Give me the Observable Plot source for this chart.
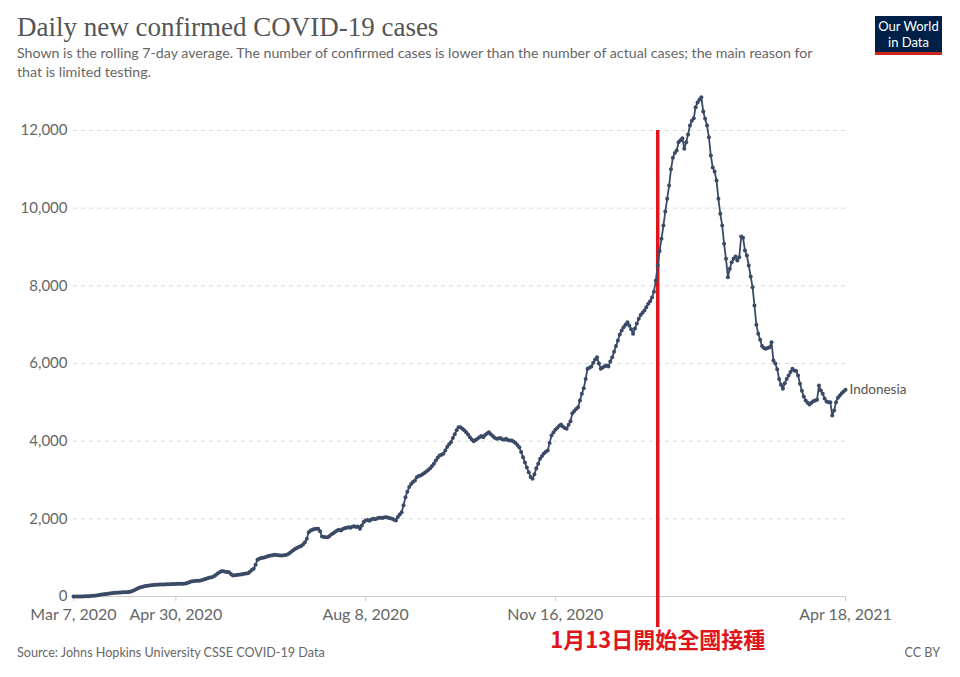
<!DOCTYPE html>
<html>
<head>
<meta charset="utf-8">
<script src="https://cdn.jsdelivr.net/npm/d3@7"></script>
<script src="https://cdn.jsdelivr.net/npm/@observablehq/plot@0.6"></script>
<style>
  html, body { margin: 0; padding: 0; background: #fff; }
  #wrap { position: relative; width: 960px; height: 677px; overflow: hidden; font-family: Lato, "Noto Sans", sans-serif; }
  #title { position: absolute; left: 17px; top: 10px; font-family: "Liberation Serif", "DejaVu Serif", serif; font-size: 27px; line-height: 34px; color: #555; white-space: nowrap; }
  #subtitle { position: absolute; left: 17px; top: 43px; font-size: 14.2px; line-height: 19px; color: #666; white-space: nowrap; }
  #logo { position: absolute; left: 875px; top: 16px; width: 67px; height: 36px; background: #002147; border-bottom: 3px solid #ce261e; color: #fff; text-align: center; font-family: "Liberation Sans Narrow", Lato, sans-serif; font-size: 13px; line-height: 16px; padding-top: 2px; box-sizing: border-box; height: 39px; }
  #source { position: absolute; left: 17px; top: 644px; font-size: 12.6px; line-height: 18px; color: #666; }
  #license { position: absolute; right: 20px; top: 644px; font-size: 12.6px; line-height: 18px; color: #666; }
  #chart { position: absolute; left: 0; top: 0; }
  #chart g[aria-label^="x-axis"] text { font-size: 16px; }
</style>
</head>
<body>
<div id="wrap">
  <div id="chart"></div>
  <div id="title"></div>
  <div id="subtitle"></div>
  <div id="logo"></div>
  <div id="source"></div>
  <div id="license"></div>
</div>
<script>
// ---- text ----
const titleText = "Daily new confirmed COVID-19 cases";
const subtitleLines = [
  "Shown is the rolling 7-day average. The number of confirmed cases is lower than the number of actual cases; the main reason for",
  "that is limited testing."
];
const logoLines = ["Our World", "in Data"];
const sourceText = "Source: Johns Hopkins University CSSE COVID-19 Data";
const licenseText = "CC BY";
const seriesName = "Indonesia";

// ---- data: daily 7-day average of new confirmed cases, from 2020-03-07 ----
const startDate = "2020-03-07";
const endDate = "2021-04-18";
const cases = [
  0,0,1,1,2,3,4,6,9,12,
  17,21,27,35,44,52,58,64,70,76,
  82,88,94,99,103,106,108,110,112,115,
  125,140,160,185,210,230,245,257,268,278,
  286,292,298,302,305,307,309,310,312,314,
  316,318,320,322,324,326,327,328,330,335,
  345,365,386,395,400,405,408,412,425,445,
  460,475,488,497,520,555,590,625,652,648,
  640,632,626,580,540,548,555,560,566,575,
  585,593,600,640,680,713,820,945,975,990,
  1000,1012,1030,1045,1055,1065,1074,1070,1060,1058,
  1055,1060,1070,1090,1120,1160,1200,1230,1255,1280,
  1300,1340,1400,1485,1656,1700,1720,1735,1745,1743,
  1680,1545,1530,1525,1527,1560,1600,1630,1670,1700,
  1717,1700,1735,1760,1770,1785,1770,1795,1810,1790,
  1802,1743,1830,1920,1957,1970,1950,1985,2000,1990,
  2010,2025,2030,2020,2042,2040,2030,2015,2000,1975,
  1957,2050,2110,2171,2350,2557,2700,2820,2900,2950,
  2987,3073,3100,3116,3150,3180,3220,3260,3300,3360,
  3417,3500,3570,3631,3650,3674,3760,3850,3920,3973,
  4080,4180,4280,4360,4360,4320,4280,4231,4170,4100,
  4040,4000,4030,4060,4102,4130,4100,4160,4200,4231,
  4180,4130,4090,4060,4070,4080,4050,4034,4060,4030,
  4020,4017,3990,3950,3900,3845,3720,3588,3450,3320,
  3201,3080,3030,3150,3300,3420,3545,3620,3680,3730,
  3760,3950,4146,4220,4292,4340,4390,4429,4380,4340,
  4318,4420,4515,4721,4780,4830,4875,5050,5219,5364,
  5600,5863,5890,5923,6020,6100,6162,6000,5863,5900,
  5930,5948,5923,6050,6162,6300,6450,6592,6750,6850,
  6935,7000,7064,6980,6880,6764,6900,7030,7150,7250,
  7310,7365,7450,7537,7600,7700,7850,8137,8523,8900,
  9210,9553,9914,10241,10583,11000,11300,11420,11485,11699,
  11750,11802,11528,11699,11900,12128,12250,12317,12600,12720,
  12790,12858,12489,12300,12128,11827,11356,11050,10944,10712,
  10241,9854,9553,9082,8696,8222,8438,8609,8700,8755,
  8652,8738,9270,9236,8910,8781,8523,8240,7965,7494,
  7000,6764,6610,6450,6400,6378,6400,6420,6549,6077,
  6000,5850,5600,5450,5348,5493,5600,5691,5780,5863,
  5820,5810,5690,5480,5300,5150,5047,4990,4944,4990,
  5029,5050,5064,5433,5304,5219,5100,5020,5004,5004,
  4661,4790,5004,5120,5176,5236,5280,5322
];

// ---- ticks ----
const xTickDates = ["2020-03-07", "2020-04-30", "2020-08-08", "2020-11-16", "2021-04-18"];
const yTicks = [0, 2000, 4000, 6000, 8000, 10000, 12000];

// ---- annotation ----
const annotationDate = "2021-01-09";
const annotationTop = 12000;
const annotationText = "1月13日開始全國接種";

// ---- build ----
const parse = d3.utcParse("%Y-%m-%d");
const start = parse(startDate);
const data = cases.map((v, i) => ({date: d3.utcDay.offset(start, i), value: v}));
const xTicks = xTickDates.map(parse);
const annot = [{date: parse(annotationDate), top: annotationTop, text: annotationText}];
const lineColor = "#3a4a66";
const red = "#e0151b";

document.getElementById("title").textContent = titleText;
document.getElementById("subtitle").innerHTML = subtitleLines.map(s => s.replace(/&/g,"&amp;")).join("<br>");
document.getElementById("logo").innerHTML = logoLines.join("<br>");
document.getElementById("source").textContent = sourceText;
document.getElementById("license").textContent = licenseText;

const chart = Plot.plot({
  width: 960,
  height: 677,
  marginTop: 130,
  marginBottom: 81,
  marginLeft: 73,
  marginRight: 115,
  style: {fontFamily: "Lato, 'Noto Sans', sans-serif", fontSize: "15px", color: "#666", background: "transparent", overflow: "visible"},
  x: {type: "utc", domain: [parse(startDate), parse(endDate)], ticks: xTicks, tickFormat: d3.utcFormat("%b %-d, %Y"), tickSize: 0, tickPadding: 12, label: null},
  y: {domain: [0, 12000], ticks: yTicks, tickFormat: d3.format(","), tickSize: 0, tickPadding: 6, label: null},
  marks: [
    Plot.ruleY(yTicks.filter(d => d > 0), {stroke: "#dadada", strokeDasharray: "4,4", strokeWidth: 1}),
    Plot.ruleY([0], {stroke: "#ccc", strokeWidth: 1}),
    Plot.ruleX(xTicks, {y1: 0, y2: 0, insetBottom: -5, stroke: "#ccc"}),
    Plot.ruleX(annot, {x: "date", y1: "top", y2: 0, insetBottom: -31, stroke: red, strokeWidth: 3.5}),
    Plot.line(data, {x: "date", y: "value", stroke: lineColor, strokeWidth: 1.8}),
    Plot.dot(data, {x: "date", y: "value", r: 2, fill: lineColor, stroke: "none"}),
    Plot.text(data.slice(-1), {x: "date", y: "value", text: () => seriesName, textAnchor: "start", dx: 4, fill: "#555", fontSize: 13.5}),
    Plot.text(annot, {x: "date", frameAnchor: "bottom", dy: 51, text: "text", fill: red, fontSize: 22, fontWeight: "bold", fontFamily: "'Noto Sans CJK TC', 'Noto Sans CJK SC', sans-serif"})
  ]
});
document.getElementById("chart").appendChild(chart);
</script>
</body>
</html>
